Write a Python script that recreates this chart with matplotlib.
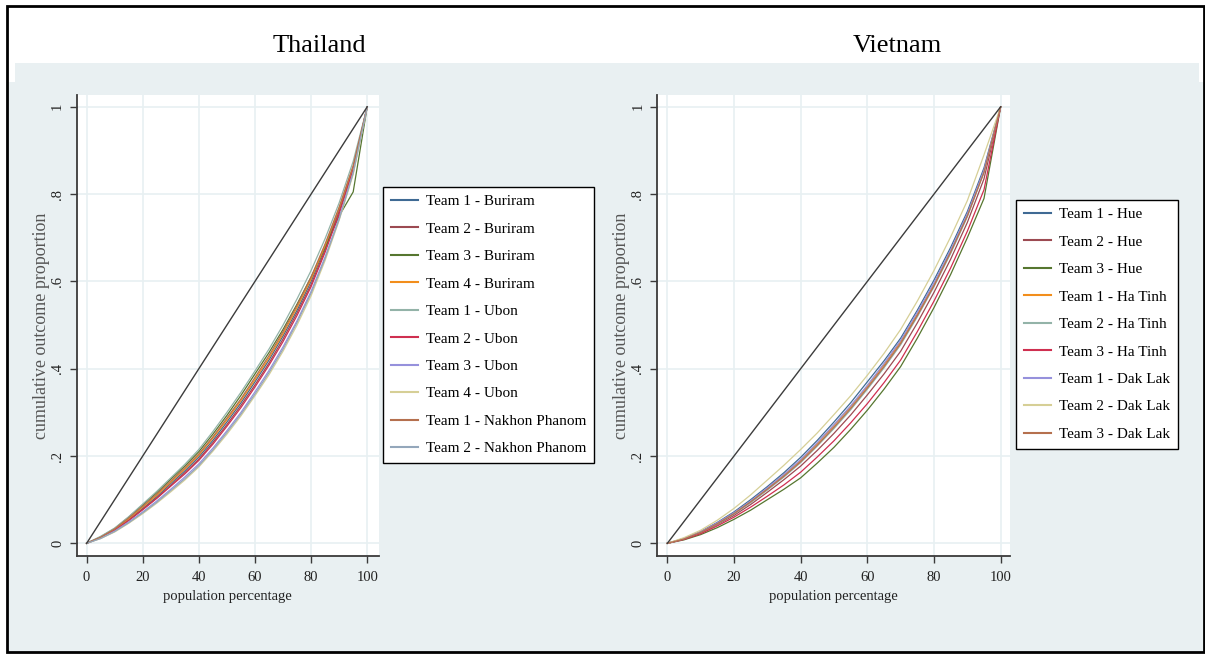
import matplotlib
matplotlib.use("Agg")
import matplotlib.pyplot as plt
from matplotlib.patches import Rectangle

plt.rcParams['font.family'] = ['Liberation Serif', 'DejaVu Serif']

# ---------------- data ----------------
pop = [0, 5, 10, 15, 20, 25, 30, 35, 40, 45, 50, 55, 60, 65, 70, 75, 80, 85, 90, 95, 100]

th_labels = ["Team 1 - Buriram", "Team 2 - Buriram", "Team 3 - Buriram", "Team 4 - Buriram",
             "Team 1 - Ubon", "Team 2 - Ubon", "Team 3 - Ubon", "Team 4 - Ubon",
             "Team 1 - Nakhon Phanom", "Team 2 - Nakhon Phanom"]
th_t1_buriram = [0, .013, .031, .054, .080, .107, .137, .166, .198, .236, .278, .322, .370, .420, .475, .534, .600, .678, .765, .860, 1]
th_t2_buriram = [0, .013, .030, .053, .078, .104, .133, .162, .193, .231, .272, .316, .363, .413, .468, .528, .593, .672, .760, .855, 1]
th_t3_buriram = [0, .015, .034, .060, .088, .116, .147, .177, .210, .250, .293, .339, .388, .437, .490, .548, .610, .678, .750, .805, 1]
th_t4_buriram = [0, .014, .032, .056, .083, .110, .140, .170, .202, .241, .283, .327, .375, .425, .480, .540, .605, .682, .768, .862, 1]
th_t1_ubon = [0, .016, .035, .061, .090, .119, .150, .181, .215, .256, .300, .346, .395, .445, .500, .560, .625, .698, .780, .875, 1]
th_t2_ubon = [0, .013, .030, .052, .077, .103, .131, .159, .190, .227, .268, .311, .358, .408, .462, .522, .588, .667, .755, .855, 1]
th_t3_ubon = [0, .012, .028, .049, .072, .097, .124, .152, .182, .218, .258, .300, .347, .396, .450, .510, .577, .656, .745, .850, 1]
th_t4_ubon = [0, .011, .026, .046, .068, .092, .118, .145, .175, .211, .250, .292, .338, .386, .440, .500, .567, .648, .740, .845, 1]
th_t1_np = [0, .014, .033, .058, .085, .113, .143, .173, .205, .244, .287, .331, .380, .430, .485, .545, .610, .686, .770, .865, 1]
th_t2_np = [0, .011, .027, .047, .070, .094, .121, .148, .178, .214, .254, .296, .342, .391, .445, .506, .573, .653, .742, .848, 1]
th_series = [th_t1_buriram, th_t2_buriram, th_t3_buriram, th_t4_buriram, th_t1_ubon,
             th_t2_ubon, th_t3_ubon, th_t4_ubon, th_t1_np, th_t2_np]

vn_labels = ["Team 1 - Hue", "Team 2 - Hue", "Team 3 - Hue", "Team 1 - Ha Tinh",
             "Team 2 - Ha Tinh", "Team 3 - Ha Tinh", "Team 1 - Dak Lak",
             "Team 2 - Dak Lak", "Team 3 - Dak Lak"]
vn_t1_hue = [0, .011, .027, .048, .072, .100, .130, .162, .197, .236, .278, .322, .370, .418, .470, .534, .603, .678, .760, .860, 1]
vn_t2_hue = [0, .010, .024, .043, .064, .089, .117, .146, .177, .213, .252, .294, .340, .388, .440, .505, .575, .651, .735, .835, 1]
vn_t3_hue = [0, .008, .020, .036, .055, .076, .100, .124, .150, .184, .220, .261, .305, .353, .405, .470, .540, .616, .700, .790, 1]
vn_t1_hatinh = [0, .011, .026, .046, .069, .096, .126, .157, .190, .229, .270, .313, .360, .409, .462, .525, .593, .669, .752, .852, 1]
vn_t2_hatinh = [0, .010, .025, .044, .067, .093, .122, .152, .185, .223, .263, .306, .353, .402, .455, .519, .588, .664, .748, .850, 1]
vn_t3_hatinh = [0, .009, .022, .040, .060, .083, .108, .134, .163, .198, .235, .276, .320, .368, .420, .485, .555, .631, .715, .810, 1]
vn_t1_daklak = [0, .011, .026, .047, .070, .097, .127, .158, .192, .231, .272, .315, .362, .412, .465, .529, .597, .672, .755, .855, 1]
vn_t2_daklak = [0, .013, .030, .053, .080, .111, .145, .179, .215, .253, .295, .338, .385, .435, .490, .555, .625, .702, .785, .890, 1]
vn_t3_daklak = [0, .010, .025, .045, .068, .095, .124, .154, .187, .225, .266, .309, .356, .405, .458, .522, .590, .667, .750, .850, 1]
vn_series = [vn_t1_hue, vn_t2_hue, vn_t3_hue, vn_t1_hatinh, vn_t2_hatinh, vn_t3_hatinh,
             vn_t1_daklak, vn_t2_daklak, vn_t3_daklak]

equality = [0, 100]
equality_y = [0, 1]

xticks = [0, 20, 40, 60, 80, 100]
yticks = [0, .2, .4, .6, .8, 1]
yticklabels = ["0", ".2", ".4", ".6", ".8", "1"]

# Stata s2color-like palette
palette = ['#3f6a94', '#9c4a52', '#56762f', '#f28e1c', '#93b3a8',
           '#cf2f50', '#9691dc', '#d6cf96', '#b5704e', '#94a7bb']

# ---------------- figure ----------------
W, H = 1205, 655
fig = plt.figure(figsize=(W / 100, H / 100), dpi=100)
fig.patch.set_facecolor('white')


def px_rect(x0, y0, x1, y1, **kw):
    r = Rectangle((x0 / W, 1 - y1 / H), (x1 - x0) / W, (y1 - y0) / H,
                  transform=fig.transFigure, **kw)
    fig.add_artist(r)
    return r


bg = '#e9f0f2'
px_rect(15, 63, 1199, 83, facecolor=bg, edgecolor='none', zorder=0)
px_rect(8, 82, 1205, 652, facecolor=bg, edgecolor='none', zorder=0)
px_rect(7, 6, 1204, 652, facecolor='none', edgecolor='black', linewidth=2, zorder=5)

fig.text(319.5 / W, 1 - 46 / H, "Thailand", fontsize=19, ha='center', va='center')
fig.text(897 / W, 1 - 46 / H, "Vietnam", fontsize=19, ha='center', va='center')


def make_axes(left_px, right_px, xlim, series, labels, leg_anchor_px):
    ax = fig.add_axes([left_px / W, 1 - 556 / H, (right_px - left_px) / W, (556 - 95) / H])
    ax.set_facecolor('white')
    ax.set_xlim(*xlim)
    ax.set_ylim(-0.029, 1.027)
    for s in ['top', 'right']:
        ax.spines[s].set_visible(False)
    for s in ['left', 'bottom']:
        ax.spines[s].set_color('#3a3a3a')
        ax.spines[s].set_linewidth(1.3)
    ax.set_xticks(xticks)
    ax.set_yticks(yticks)
    ax.set_yticklabels(yticklabels, rotation=90, va='center')
    ax.tick_params(axis='both', labelsize=10.5, length=5, width=1, color='#3a3a3a',
                   labelcolor='#222222')
    ax.tick_params(axis='x', pad=6)
    ax.tick_params(axis='y', pad=4)
    ax.grid(True, color='#e8f0f2', linewidth=1.2)
    ax.set_axisbelow(True)
    lines = []
    for vals, col in zip(series, palette):
        ln, = ax.plot(pop, vals, color=col, linewidth=0.9, zorder=3)
        lines.append(ln)
    ax.plot(equality, equality_y, color='#3c3c3c', linewidth=1.0, zorder=4)
    ax.set_xlabel("population percentage", fontsize=10.5, labelpad=4, color='#222222')
    ax.set_ylabel("cumulative outcome proportion", fontsize=13, labelpad=1, color='#555555')
    leg = ax.legend(lines, labels, loc='upper left',
                    bbox_to_anchor=(leg_anchor_px[0] / W, 1 - leg_anchor_px[1] / H),
                    bbox_transform=fig.transFigure, borderaxespad=0,
                    fontsize=11, frameon=True, fancybox=False, framealpha=1,
                    edgecolor='black', handlelength=1.8, handletextpad=0.5,
                    labelspacing=0.9, borderpad=0.5)
    leg.get_frame().set_linewidth(1.0)
    for h in leg.get_lines():
        h.set_linewidth(1.5)
    return ax


make_axes(76.5, 379, (-3.6, 104.2), th_series, th_labels, (383, 187))
make_axes(657, 1010, (-3.1, 102.8), vn_series, vn_labels, (1016, 200))

fig.savefig("out.png", dpi=100)
